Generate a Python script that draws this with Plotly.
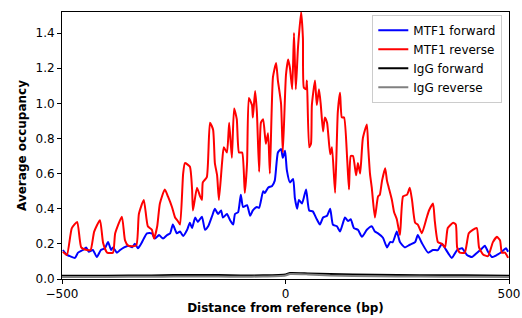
import plotly.graph_objects as go

# MTF1 forward (blue)
fwd_x = [-498, -489, -482, -471, -464, -453, -446, -440, -431, -422, -413, -404, -397, -390, -386,
         -377, -370, -361, -352, -343, -337, -330, -321, -310, -299, -292, -283, -274, -265, -258,
         -252, -243, -236, -229, -220, -214, -209, -202, -196, -187, -180, -173, -164, -158, -151,
         -144, -140, -131, -124, -117, -113, -106, -100, -95, -86, -79, -73, -64, -59, -50,
         -46, -39, -30, -24, -17, -10, -6, -1, 3, 10, 17, 21, 26, 30, 37,
         46, 53, 61, 70, 77, 84, 93, 100, 106, 115, 122, 133, 140, 146, 153,
         162, 171, 182, 193, 200, 207, 218, 227, 234, 240, 249, 256, 267, 278, 290,
         296, 305, 319, 330, 341, 350, 357, 372, 384, 395, 406, 417, 428, 440, 446,
         453, 462, 473, 484, 493, 498]
fwd_y = [0.165, 0.137, 0.13, 0.12, 0.15, 0.165, 0.18, 0.155, 0.165, 0.125, 0.165, 0.175, 0.21, 0.165, 0.18,
         0.15, 0.165, 0.18, 0.19, 0.18, 0.20, 0.175, 0.21, 0.26, 0.26, 0.23, 0.25, 0.23, 0.25, 0.26,
         0.31, 0.26, 0.27, 0.245, 0.28, 0.32, 0.29, 0.35, 0.325, 0.355, 0.28, 0.30, 0.36, 0.40, 0.37,
         0.39, 0.35, 0.37, 0.335, 0.31, 0.37, 0.38, 0.48, 0.41, 0.42, 0.36, 0.39, 0.41, 0.405, 0.50,
         0.49, 0.52, 0.53, 0.56, 0.72, 0.74, 0.69, 0.73, 0.62, 0.55, 0.57, 0.46, 0.40, 0.45, 0.43,
         0.51, 0.39, 0.385, 0.34, 0.31, 0.35, 0.36, 0.40, 0.31, 0.30, 0.27, 0.35, 0.33, 0.34, 0.29,
         0.28, 0.24, 0.28, 0.30, 0.27, 0.26, 0.235, 0.18, 0.21, 0.21, 0.27, 0.21, 0.18, 0.195, 0.21,
         0.25, 0.205, 0.15, 0.165, 0.165, 0.20, 0.175, 0.12, 0.165, 0.175, 0.137, 0.125, 0.148, 0.175, 0.19,
         0.155, 0.125, 0.137, 0.155, 0.175, 0.155]

# MTF1 reverse (red)
rev_x = [-498, -489, -478, -466, -457, -444, -436, -428, -415, -408, -399, -386, -381, -366, -359,
         -352, -334, -328, -317, -308, -299, -294, -287, -281, -270, -263, -254, -247, -241, -236,
         -229, -225, -214, -209, -207, -198, -191, -187, -185, -176, -169, -162, -158, -153, -149,
         -142, -138, -131, -126, -120, -115, -109, -104, -97, -91, -86, -82, -75, -73, -68,
         -64, -59, -55, -50, -44, -39, -35, -28, -21, -17, -10, -6, 1, 6, 10,
         15, 19, 23, 28, 35, 39, 41, 46, 48, 53, 57, 59, 66, 70, 75,
         79, 84, 88, 93, 100, 104, 111, 117, 122, 126, 131, 138, 142, 146, 151,
         158, 162, 167, 173, 182, 185, 189, 193, 200, 207, 211, 216, 223, 227, 231,
         238, 243, 249, 256, 263, 272, 278, 283, 290, 296, 305, 316, 321, 330, 334,
         341, 350, 357, 363, 375, 381, 384, 390, 401, 410, 419, 428, 433, 442, 453,
         464, 473, 480, 484, 491, 498]
rev_y = [0.155, 0.137, 0.29, 0.325, 0.18, 0.165, 0.165, 0.27, 0.335, 0.205, 0.15, 0.15, 0.26, 0.355, 0.22,
         0.19, 0.19, 0.37, 0.45, 0.30, 0.28, 0.23, 0.30, 0.43, 0.51, 0.47, 0.41, 0.35, 0.33, 0.31,
         0.60, 0.66, 0.64, 0.51, 0.39, 0.52, 0.47, 0.45, 0.55, 0.58, 0.89, 0.85, 0.66, 0.59, 0.45,
         0.66, 0.75, 0.72, 0.89, 0.69, 0.97, 0.91, 0.72, 0.72, 0.49, 0.66, 1.03, 0.99, 0.92, 1.07,
         0.95, 0.61, 0.89, 0.91, 0.77, 0.83, 0.60, 1.15, 1.23, 1.13, 1.00, 0.72, 1.16, 1.25, 1.20,
         1.08, 1.40, 1.08, 1.32, 1.52, 1.37, 1.09, 1.08, 1.13, 0.75, 0.77, 0.99, 1.13, 0.99, 1.08,
         0.99, 0.84, 0.92, 0.89, 0.71, 0.75, 0.49, 0.95, 1.06, 0.92, 0.92, 0.68, 0.51, 0.70, 0.70,
         0.59, 0.66, 0.60, 0.80, 0.88, 0.75, 0.60, 0.52, 0.35, 0.47, 0.48, 0.56, 0.63, 0.56, 0.52,
         0.45, 0.38, 0.34, 0.25, 0.47, 0.48, 0.52, 0.45, 0.32, 0.31, 0.26, 0.35, 0.39, 0.43, 0.33,
         0.21, 0.20, 0.18, 0.29, 0.32, 0.31, 0.18, 0.15, 0.15, 0.26, 0.28, 0.29, 0.18, 0.14, 0.13,
         0.21, 0.24, 0.22, 0.15, 0.15, 0.12]

# IgG controls
igg_x = [-500, -400, -300, -250, -150, -100, -50, 0, 10, 50, 100, 200, 300, 400, 500]
igg_fwd_y = [0.018, 0.019, 0.020, 0.023, 0.023, 0.020, 0.021, 0.026, 0.034, 0.032, 0.028, 0.024, 0.022, 0.021, 0.019]
igg_rev_y = [0.012, 0.012, 0.013, 0.014, 0.014, 0.013, 0.014, 0.020, 0.028, 0.026, 0.020, 0.016, 0.014, 0.013, 0.012]

spl = dict(shape="spline", smoothing=0.5)
fig = go.Figure()
fig.add_trace(go.Scatter(x=fwd_x, y=fwd_y, mode="lines", name="MTF1 forward",
                         line=dict(color="#0000ff", width=2, **spl)))
fig.add_trace(go.Scatter(x=rev_x, y=rev_y, mode="lines", name="MTF1 reverse",
                         line=dict(color="#ff0000", width=2, **spl)))
fig.add_trace(go.Scatter(x=igg_x, y=igg_fwd_y, mode="lines", name="IgG forward",
                         line=dict(color="#000000", width=2, **spl)))
fig.add_trace(go.Scatter(x=igg_x, y=igg_rev_y, mode="lines", name="IgG reverse",
                         line=dict(color="#808080", width=2, **spl)))

fig.update_layout(
    width=522, height=318,
    margin=dict(l=62, r=13, t=12, b=39),
    paper_bgcolor="white", plot_bgcolor="white",
    font=dict(family="DejaVu Sans", size=12, color="black"),
    legend=dict(x=0.985, y=0.99, xanchor="right", yanchor="top",
                bgcolor="rgba(255,255,255,0.8)", bordercolor="#cccccc", borderwidth=1,
                font=dict(size=12), itemwidth=30, tracegroupgap=0),
)
fig.update_xaxes(range=[-500, 500], tickvals=[-500, 0, 500], ticktext=["\u2212500", "0", "500"],
                 showgrid=False, zeroline=False, showline=True, linecolor="black", linewidth=1,
                 mirror=True, ticks="outside", ticklen=4, tickcolor="black", automargin=False,
                 tickfont=dict(size=12),
                 title=dict(text="<b>Distance from reference (bp)</b>", font=dict(size=12), standoff=2))
fig.update_yaxes(range=[0, 1.52], tickvals=[0, 0.2, 0.4, 0.6, 0.8, 1.0, 1.2, 1.4], tickformat=".1f",
                 showgrid=False, zeroline=False, showline=True, linecolor="black", linewidth=1,
                 mirror=True, ticks="outside", ticklen=4, tickcolor="black", automargin=False,
                 tickfont=dict(size=12),
                 title=dict(text="<b>Average occupancy</b>", font=dict(size=12), standoff=6))

fig.write_html("out.html", config={"displayModeBar": False},
               post_script="document.body.style.margin='0';")
